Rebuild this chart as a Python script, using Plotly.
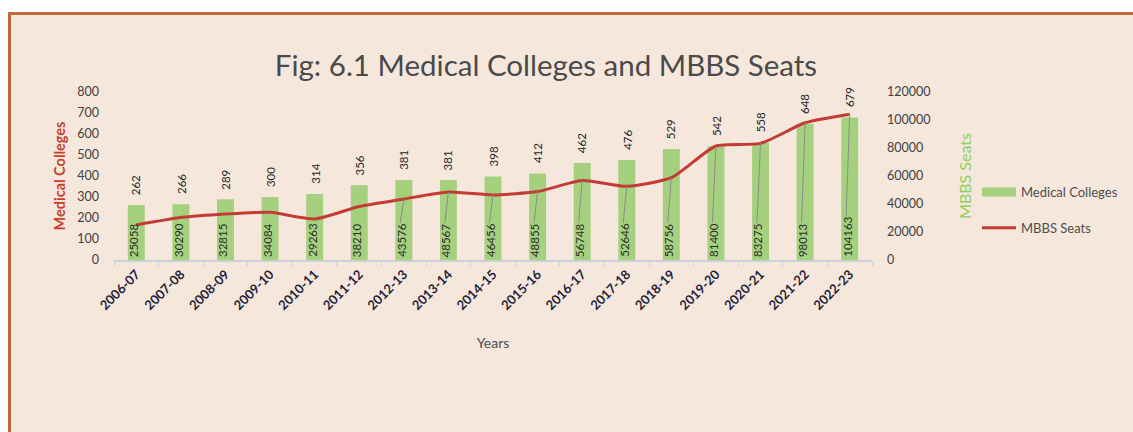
import plotly.graph_objects as go

# Academic years on the category axis
years = ["2006-07", "2007-08", "2008-09", "2009-10", "2010-11", "2011-12",
         "2012-13", "2013-14", "2014-15", "2015-16", "2016-17", "2017-18",
         "2018-19", "2019-20", "2020-21", "2021-22", "2022-23"]

# Number of medical colleges (bars, left axis)
colleges = [262, 266, 289, 300, 314, 356, 381, 381, 398, 412, 462, 476,
            529, 542, 558, 648, 679]

# MBBS seats (line, right axis)
seats = [25058, 30290, 32815, 34084, 29263, 38210, 43576, 48567, 46456,
         48855, 56748, 52646, 58756, 81400, 83275, 98013, 104163]

college_ticks = [0, 100, 200, 300, 400, 500, 600, 700, 800]
seat_ticks = [0, 20000, 40000, 60000, 80000, 100000, 120000]

W, H = 1133, 432
ML, MR, MT, MB = 114, 261, 92, 172
PW, PH = W - ML - MR, H - MT - MB

BG = "#f5e7dc"
BORDER = "#c0683a"
GREEN = "#a5d17f"
RED = "#c33b35"
FONT = "Lato"


def px_x(px):
    return (px - ML) / PW


def px_y(py):
    return (H - MB - py) / PH


fig = go.Figure()

# legend key for the bars drawn as a wide swatch
fig.add_trace(go.Scatter(
    x=[None], y=[None], name="Medical Colleges", mode="lines",
    line=dict(color=GREEN, width=9), legendgroup="colleges",
))

fig.add_trace(go.Bar(
    x=years, y=colleges, name="Medical Colleges", yaxis="y",
    marker=dict(color=GREEN, line=dict(width=0)),
    showlegend=False, legendgroup="colleges",
))

fig.add_trace(go.Scatter(
    x=years, y=seats, name="MBBS Seats", yaxis="y2", mode="lines",
    line=dict(color=RED, width=3, shape="spline", smoothing=0.6),
    legendgroup="seats",
))

annotations = []
shapes = []

# value labels above the bars
for i, v in enumerate(colleges):
    annotations.append(dict(
        x=i, y=v, xref="x", yref="y", text=str(v), showarrow=False,
        textangle=-90, xanchor="center", yanchor="bottom", yshift=8,
        font=dict(family=FONT, size=11.5, color="#262626"),
    ))

# seat labels at the foot of each bar, with leader lines up to the line
units_per_px = seat_ticks[-1] / PH
for i, v in enumerate(seats):
    annotations.append(dict(
        x=i, y=0, xref="x", yref="y2", text=str(v), showarrow=False,
        textangle=-90, xanchor="center", yanchor="bottom", yshift=1, xshift=-3,
        font=dict(family=FONT, size=11.5, color="#2b2b2b"),
    ))
    label_top = (6.8 * len(str(v)) + 3) * units_per_px
    if v - label_top > 14000:
        shapes.append(dict(
            type="line", xref="x", yref="y2",
            x0=i - 0.08, y0=label_top, x1=i, y1=v,
            line=dict(color="#8c8c8c", width=1), layer="above",
        ))

# page panel with its frame
shapes.append(dict(
    type="rect", xref="paper", yref="paper",
    x0=px_x(9.5), y0=px_y(500), x1=px_x(1200), y1=px_y(13.5),
    fillcolor=BG, line=dict(color=BORDER, width=3), layer="below",
))

fig.update_layout(
    width=W, height=H,
    margin=dict(l=ML, r=MR, t=MT, b=MB, pad=0, autoexpand=False),
    paper_bgcolor="white", plot_bgcolor="rgba(0,0,0,0)",
    font=dict(family=FONT, color="#404040"),
    title=dict(
        text="Fig: 6.1 Medical Colleges and MBBS Seats",
        x=546 / W, xref="container", xanchor="center",
        y=1 - 66 / H, yref="container", yanchor="middle",
        font=dict(family=FONT, size=29.5, color="#4a4a4a"),
    ),
    bargap=0.62,
    xaxis=dict(
        type="category", tickangle=-45, tickson="boundaries",
        ticks="outside", ticklen=4, tickcolor="#c8d0da",
        showline=True, linecolor="#c8d0da", linewidth=1.5,
        showgrid=False, zeroline=False,
        tickfont=dict(family=FONT, size=13, color="#23233a", weight="bold"),
        title=dict(text="Years", standoff=26,
                   font=dict(family=FONT, size=14, color="#4d4d4d")),
        range=[-0.5, len(years) - 0.5],
    ),
    yaxis=dict(
        range=[0, college_ticks[-1]], tickvals=college_ticks,
        ticktext=[str(v) for v in college_ticks],
        showgrid=False, zeroline=False, showline=False, ticks="",
        ticklabelstandoff=14,
        tickfont=dict(family=FONT, size=12.5, color="#404040"),
        title=dict(text="<b>Medical Colleges</b>", standoff=8,
                   font=dict(family=FONT, size=14.5, color="#c8412f")),
    ),
    yaxis2=dict(
        range=[0, seat_ticks[-1]], tickvals=seat_ticks,
        ticktext=[str(v) for v in seat_ticks],
        overlaying="y", side="right",
        showgrid=False, zeroline=False, showline=False, ticks="",
        ticklabelstandoff=14,
        tickfont=dict(family=FONT, size=12.5, color="#404040"),
        title=dict(text="MBBS Seats", standoff=30,
                   font=dict(family=FONT, size=16, color="#8fd060")),
    ),
    legend=dict(
        x=px_x(977), y=px_y(177), xanchor="left", yanchor="top",
        bgcolor="rgba(0,0,0,0)", tracegroupgap=16, itemwidth=34,
        traceorder="grouped",
        font=dict(family=FONT, size=13, color="#4d4d4d"),
    ),
    annotations=annotations,
    shapes=shapes,
)

fig.write_html("out.html")
